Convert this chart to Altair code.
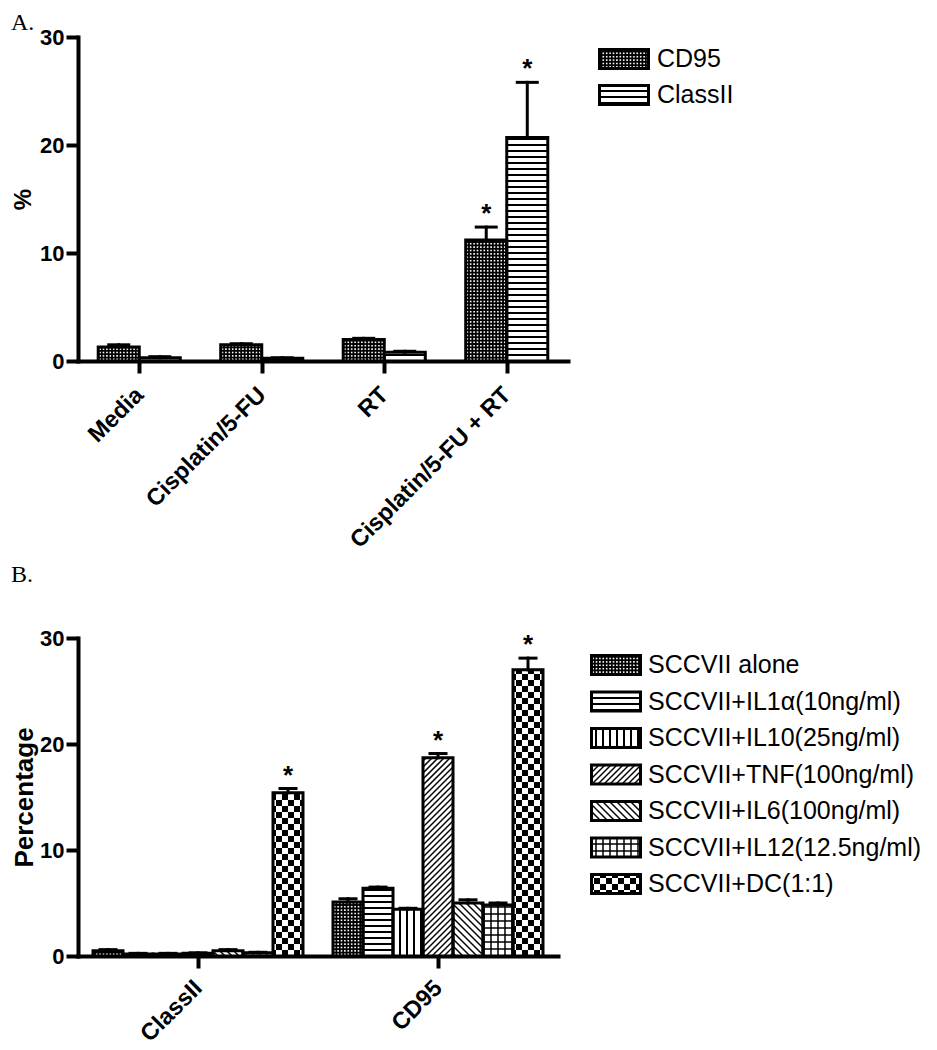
import math
import json
import altair as alt
import pandas as pd

FONT = "Liberation Sans"
SERIF = "Liberation Serif"

# ---------------- Panel A data ----------------
cats_A = ["Media", "Cisplatin/5-FU", "RT", "Cisplatin/5-FU + RT"]
series_A = ["CD95", "ClassII"]
cd95_A = [1.3, 1.5, 2.0, 11.2]
cd95_A_err = [0.2, 0.1, 0.1, 1.2]
classII_A = [0.3, 0.25, 0.8, 20.7]
classII_A_err = [0.1, 0.05, 0.1, 5.1]
stars_cd95_A = [0, 0, 0, 1]
stars_classII_A = [0, 0, 0, 1]
kinds_A = ["dots", "hlines"]

# ---------------- Panel B data ----------------
cats_B = ["ClassII", "CD95"]
series_B = ["SCCVII alone", "SCCVII+IL1\u03b1(10ng/ml)", "SCCVII+IL10(25ng/ml)",
            "SCCVII+TNF(100ng/ml)", "SCCVII+IL6(100ng/ml)", "SCCVII+IL12(12.5ng/ml)",
            "SCCVII+DC(1:1)"]
classII_B = [0.5, 0.2, 0.2, 0.25, 0.5, 0.3, 15.4]
classII_B_err = [0.1, 0.05, 0.05, 0.05, 0.1, 0.05, 0.4]
cd95_B = [5.1, 6.4, 4.4, 18.7, 5.0, 4.8, 27.0]
cd95_B_err = [0.3, 0.1, 0.1, 0.4, 0.3, 0.2, 1.1]
stars_classII_B = [0, 0, 0, 0, 0, 0, 1]
stars_cd95_B = [0, 0, 0, 1, 0, 0, 1]
kinds_B = ["dots", "hlines", "vlines", "diag_up", "diag_down", "grid", "checker"]

BASE_FILL = {"dots": "black"}


def pattern_geom(kind, X0, X1, Y0, Y1):
    """Pattern pieces in pixel space (y up) inside box."""
    segs, cells = [], []
    if X1 - X0 <= 0 or Y1 - Y0 <= 0.05:
        return segs, cells
    if kind in ("hlines", "grid"):
        d, w = (6.0, 2.0) if kind == "hlines" else (7.0, 1.5)
        k = math.floor(Y0 / d) + 1
        while k * d < Y1:
            segs.append((X0, k * d, X1, k * d, w))
            k += 1
    if kind in ("vlines", "grid"):
        d, w = (7.0, 2.0) if kind == "vlines" else (7.0, 1.5)
        k = math.floor(X0 / d) + 1
        while k * d < X1:
            segs.append((k * d, Y0, k * d, Y1, w))
            k += 1
    if kind == "diag_up":
        d, w = 6.0, 1.5
        k = math.floor((Y0 - X1) / d)
        while k * d < Y1 - X0:
            c = k * d
            xa, xb = max(X0, Y0 - c), min(X1, Y1 - c)
            if xb > xa:
                segs.append((xa, xa + c, xb, xb + c, w))
            k += 1
    if kind == "diag_down":
        d, w = 7.0, 1.5
        k = math.floor((X0 + Y0) / d)
        while k * d < X1 + Y1:
            c = k * d
            xa, xb = max(X0, c - Y1), min(X1, c - Y0)
            if xb > xa:
                segs.append((xa, c - xa, xb, c - xb, w))
            k += 1
    if kind == "checker":
        s = 6.0
        for i in range(math.floor(X0 / s), math.ceil(X1 / s)):
            for j in range(math.floor(Y0 / s), math.ceil(Y1 / s)):
                if (i + j) % 2 == 0:
                    xa, xb = max(X0, i * s), min(X1, (i + 1) * s)
                    ya, yb = max(Y0, j * s), min(Y1, (j + 1) * s)
                    if xb > xa and yb > ya:
                        cells.append((xa, xb, ya, yb, "black"))
    if kind == "dots":
        p, q = 3.4, 1.6
        for i in range(math.floor(X0 / p), math.ceil(X1 / p)):
            for j in range(math.floor(Y0 / p), math.ceil(Y1 / p)):
                xa, xb = max(X0, i * p + (p - q) / 2), min(X1, i * p + (p + q) / 2)
                ya, yb = max(Y0, j * p + (p - q) / 2), min(Y1, j * p + (p + q) / 2)
                if xb > xa and yb > ya:
                    cells.append((xa, xb, ya, yb, "white"))
    return segs, cells


def build_panel(cats, series, vals, errs, stars, kinds, W, H, bw, capw,
                leg_x0, leg_x1, leg_y0, leg_dy, leg_text_x, ytitle, ytitle_size,
                title, title_offset, xlabel_pad):
    n, m = len(cats), len(series)
    sx, sy = W / n, H / 30.0
    boxes, segs, cells, erows, srows, trows = [], [], [], [], [], []

    def add_box(x0, x1, y0, y1, kind):
        boxes.append(dict(x=x0, x2=x1, y=y0, y2=y1, fill=BASE_FILL.get(kind, "white")))
        sg, cl = pattern_geom(kind, x0 * sx, x1 * sx, y0 * sy, y1 * sy)
        for (xa, ya, xb, yb, w) in sg:
            segs.append(dict(x=xa / sx, x2=xb / sx, y=ya / sy, y2=yb / sy, w=w))
        for (xa, xb, ya, yb, c) in cl:
            cells.append(dict(x=xa / sx, x2=xb / sx, y=ya / sy, y2=yb / sy, fill=c))

    for i in range(n):
        c = i + 0.5
        for s in range(m):
            x0 = c - m * bw / 2 + s * bw
            x1 = x0 + bw
            v, e = vals[s][i], errs[s][i]
            add_box(x0, x1, 0, v, kinds[s])
            xc = x0 + bw / 2
            erows.append(dict(x=xc, x2=xc, y=v, y2=v + e))
            erows.append(dict(x=xc - capw / 2 / sx, x2=xc + capw / 2 / sx, y=v + e, y2=v + e))
            if stars[s][i]:
                srows.append(dict(x=xc, y=v + e, t="*"))

    # legend (pixel layout relative to the plot area, converted to data units)
    for s in range(m):
        cy = leg_y0 + s * leg_dy
        add_box(leg_x0 / sx, leg_x1 / sx, (H - cy - 9.5) / sy, (H - cy + 9.5) / sy, kinds[s])
        trows.append(dict(x=leg_text_x / sx, y=(H - cy) / sy, t=series[s]))

    xs = alt.Scale(domain=[0, n], nice=False, zero=False)
    ys = alt.Scale(domain=[0, 30], nice=False, zero=True)
    label_expr = json.dumps(cats) + "[floor(datum.value)]"
    ax_x = alt.Axis(values=[i + 0.5 for i in range(n)], labelExpr=label_expr, title=None,
                    labelAngle=-45, labelAlign="right", labelBaseline="middle",
                    labelOverlap=False, labelFlush=False, labelPadding=xlabel_pad,
                    labelLimit=0, labelFontSize=23.5)
    ax_y = alt.Axis(values=[0, 10, 20, 30], title=ytitle, titleFontSize=ytitle_size,
                    titleX=-67, titleY=H / 2, titleAngle=-90, titleBaseline="top",
                    titleAlign="center", labelPadding=2, labelOverlap=False,
                    labelFontSize=22)
    xe = alt.X("x:Q", scale=xs, axis=ax_x)
    ye = alt.Y("y:Q", scale=ys, axis=ax_y)

    base_fill = alt.Chart(pd.DataFrame(boxes)).mark_rect(strokeWidth=0).encode(
        x=xe, x2="x2:Q", y=ye, y2="y2:Q", fill=alt.Fill("fill:N", scale=None))
    cell_layer = alt.Chart(pd.DataFrame(cells)).mark_rect(strokeWidth=0).encode(
        x=xe, x2="x2:Q", y=ye, y2="y2:Q", fill=alt.Fill("fill:N", scale=None))
    seg_layer = alt.Chart(pd.DataFrame(segs)).mark_rule(color="black", strokeCap="butt").encode(
        x=xe, x2="x2:Q", y=ye, y2="y2:Q", strokeWidth=alt.StrokeWidth("w:Q", scale=None))
    outline = alt.Chart(pd.DataFrame(boxes)).mark_rect(
        fill="white", fillOpacity=0, stroke="black", strokeWidth=3, strokeJoin="miter").encode(
        x=xe, x2="x2:Q", y=ye, y2="y2:Q")
    err_layer = alt.Chart(pd.DataFrame(erows)).mark_rule(color="black", strokeWidth=3, strokeCap="square").encode(
        x=xe, x2="x2:Q", y=ye, y2="y2:Q")
    star_layer = alt.Chart(pd.DataFrame(srows)).mark_text(
        font=FONT, fontSize=26, fontWeight="bold", baseline="alphabetic", dy=-5, color="black").encode(
        x=xe, y=ye, text="t:N")
    text_layer = alt.Chart(pd.DataFrame(trows)).mark_text(
        font=FONT, fontSize=25, align="left", baseline="middle", color="black").encode(
        x=xe, y=ye, text="t:N")

    return alt.layer(base_fill, cell_layer, seg_layer, outline, err_layer, star_layer, text_layer).properties(
        width=W, height=H,
        title=alt.TitleParams(text=title, anchor="start", font=SERIF, fontSize=24,
                              fontWeight="normal", offset=title_offset, frame="bounds", color="black"))


panel_A = build_panel(
    cats_A, series_A, [cd95_A, classII_A], [cd95_A_err, classII_A_err],
    [stars_cd95_A, stars_classII_A], kinds_A,
    W=490, H=324, bw=0.335, capw=20,
    leg_x0=521.5, leg_x1=570.5, leg_y0=22, leg_dy=36, leg_text_x=579,
    ytitle="%", ytitle_size=24, title="A.", title_offset=-9, xlabel_pad=18)

vals_B = [[classII_B[s], cd95_B[s]] for s in range(len(series_B))]
errs_B = [[classII_B_err[s], cd95_B_err[s]] for s in range(len(series_B))]
stars_B = [[stars_classII_B[s], stars_cd95_B[s]] for s in range(len(series_B))]

panel_B = build_panel(
    cats_B, series_B, vals_B, errs_B, stars_B, kinds_B,
    W=480, H=318, bw=0.125, capw=16,
    leg_x0=513.5, leg_x1=562.5, leg_y0=27, leg_dy=36.5, leg_text_x=570,
    ytitle="Percentage", ytitle_size=26, title="B.", title_offset=40, xlabel_pad=16)

chart = alt.vconcat(panel_A, panel_B, spacing=11).properties(
    padding={"left": 3, "top": 3, "right": 2, "bottom": 0}
).configure(
    font=FONT, background="white"
).configure_view(stroke=None).configure_axis(
    domainColor="black", domainWidth=4, domainCap="square",
    tickColor="black", tickWidth=4, tickSize=12,
    labelFont=FONT, labelFontSize=22, labelFontWeight="bold", labelColor="black",
    titleFont=FONT, titleFontWeight="bold", titleColor="black", grid=False,
)

chart.save("out.html", embed_options={"renderer": "svg", "actions": False})
